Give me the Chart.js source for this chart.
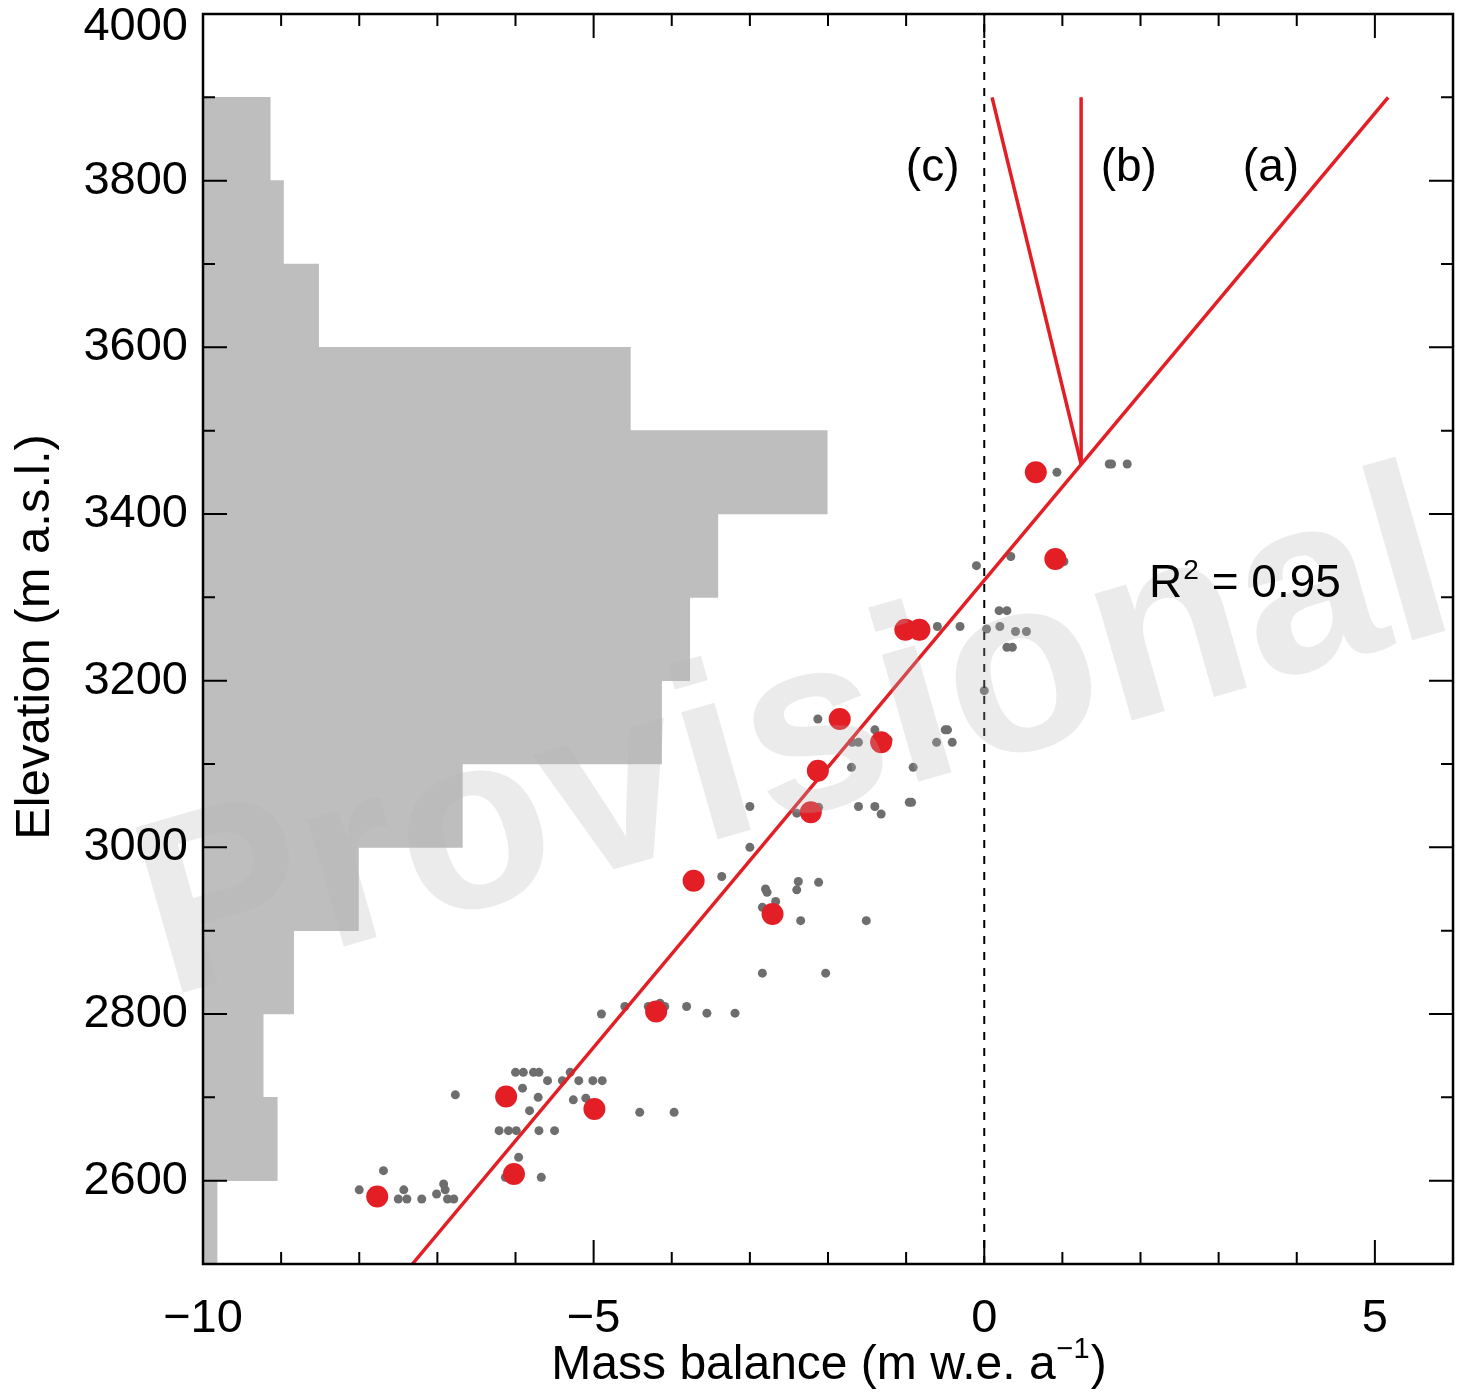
<!DOCTYPE html>
<html>
<head>
<meta charset="utf-8">
<script src="https://cdn.jsdelivr.net/npm/chart.js@4.4.1/dist/chart.umd.min.js"></script>
<style>
  html, body { margin: 0; padding: 0; background: #fff; }
  canvas { display: block; }
</style>
</head>
<body>
<canvas id="chart" width="1466" height="1394"></canvas>
<script>
const FONT = '"Liberation Sans", Arial, Helvetica, sans-serif';
const RED = '#e31e24';

// hypsometry: centre of each 100 m band and where its grey bar ends on the x axis
const bandElev  = [2550, 2650, 2750, 2850, 2950, 3050, 3150, 3250, 3350, 3450, 3550, 3650, 3750, 3850];
const bandWidth = [-9.82, -9.05, -9.23, -8.84, -8.01, -6.68, -4.13, -3.77, -3.41, -2.01, -4.53, -8.52, -8.97, -9.14];

// small grey dots: [mass balance, elevation]
const gridObs = [
  [-6.00, 2730], [-5.90, 2730], [-5.77, 2730], [-5.70, 2730], [-5.30, 2730],
  [-5.59, 2720], [-5.40, 2720], [-5.19, 2720], [-5.01, 2720], [-4.89, 2720],
  [-5.91, 2711], [-5.71, 2700], [-5.26, 2697], [-5.10, 2699], [-6.77, 2703],
  [-5.82, 2684], [-4.41, 2682], [-3.97, 2682],
  [-6.21, 2660], [-6.09, 2660], [-5.99, 2660], [-5.70, 2660], [-5.50, 2660],
  [-5.96, 2628], [-6.13, 2604], [-5.67, 2604],
  [-7.69, 2612], [-8.00, 2589], [-7.43, 2589], [-7.50, 2578], [-7.39, 2578], [-7.20, 2578],
  [-7.01, 2584], [-6.92, 2596], [-6.90, 2589], [-6.87, 2578], [-6.79, 2578],
  [-4.90, 2800], [-4.60, 2809], [-4.30, 2809], [-4.15, 2813], [-4.09, 2809], [-3.81, 2809],
  [-3.55, 2801], [-3.19, 2801],
  [-3.00, 3000], [-3.36, 2965], [-2.80, 2950], [-2.78, 2946], [-2.67, 2935], [-2.84, 2928],
  [-2.38, 2959], [-2.40, 2949], [-2.12, 2958], [-2.35, 2912], [-1.51, 2912], [-2.84, 2849], [-2.03, 2849],
  [-2.13, 3154], [-1.40, 3141], [-1.69, 3126], [-1.61, 3126], [-1.23, 3129], [-1.70, 3096],
  [-0.91, 3096], [-0.50, 3141], [-0.47, 3141], [-0.61, 3126], [-0.41, 3126],
  [-3.00, 3049], [-2.40, 3041], [-2.12, 3048], [-1.61, 3049], [-1.40, 3049], [-1.32, 3040],
  [-0.96, 3054], [-0.93, 3054],
  [0.93, 3450], [1.60, 3460], [1.63, 3460], [1.83, 3460], [0.34, 3349], [-0.10, 3338], [1.02, 3343],
  [-0.60, 3265], [-0.31, 3265], [0.19, 3284], [0.29, 3284], [0.03, 3262], [0.20, 3265],
  [0.40, 3259], [0.54, 3259], [0.29, 3240], [0.36, 3240], [0.00, 3188]
];

// big red dots: [mass balance, elevation]
const stakeObs = [
  [-7.77, 2581], [-6.12, 2701], [-6.02, 2608], [-4.99, 2686], [-4.20, 2803],
  [-3.72, 2960], [-2.71, 2920], [-2.22, 3042], [-2.13, 3092], [-1.85, 3154],
  [-1.32, 3126], [-1.01, 3261], [-0.83, 3261], [0.66, 3450], [0.91, 3346]
];

// gradient lines (a), (b), (c) and the zero line
const fitA = [[-7.32, 2500], [5.17, 3900]];
const fitB = [[1.24, 3460], [1.24, 3900]];
const fitC = [[1.24, 3460], [0.10, 3900]];
const zeroLine = [[0, 2500], [0, 4000]];

const xMajor = [-10, -5, 0, 5];
const xMinor = [-9, -8, -7, -6, -4, -3, -2, -1, 1, 2, 3, 4];
const yMajor = [2600, 2800, 3000, 3200, 3400, 3600, 3800, 4000];
const yMinor = [2700, 2900, 3100, 3300, 3500, 3700, 3900];

const lineLabels = [
  { text: '(c)', x: -0.66, y: 3800 },
  { text: '(b)', x: 1.85, y: 3800 },
  { text: '(a)', x: 3.67, y: 3800 }
];
const r2Label = { x: 2.11, y: 3300, value: '0.95' };

const pts = arr => arr.map(([x, y]) => ({ x, y }));
const minus = s => String(s).replace('-', '\u2212');

const lineSet = (data, extra) => Object.assign({
  type: 'line', data: pts(data), borderColor: RED, borderWidth: 3.5,
  pointRadius: 0, fill: false, tension: 0, order: 0
}, extra);

const frame = {
  id: 'frame',
  afterDatasetsDraw(chart) {
    const { ctx, chartArea: a } = chart;
    ctx.save();
    ctx.translate(a.left + (a.right - a.left) * 0.474, a.top + (a.bottom - a.top) * 0.585);
    ctx.rotate(-16 * Math.PI / 180);
    ctx.font = 'bold 250px ' + FONT;
    ctx.fillStyle = 'rgba(180,180,180,0.27)';
    ctx.textAlign = 'center';
    ctx.textBaseline = 'middle';
    ctx.fillText('Provisional', 0, 0);
    ctx.restore();
  },
  afterDraw(chart) {
    const { ctx, chartArea: a, scales: { x, y } } = chart;
    ctx.save();
    ctx.strokeStyle = '#000';
    ctx.lineWidth = 2.5;
    ctx.strokeRect(a.left, a.top, a.right - a.left, a.bottom - a.top);

    ctx.lineWidth = 2;
    ctx.beginPath();
    const xt = (v, len) => {
      const px = x.getPixelForValue(v);
      ctx.moveTo(px, a.bottom); ctx.lineTo(px, a.bottom - len);
      ctx.moveTo(px, a.top); ctx.lineTo(px, a.top + len);
    };
    const yt = (v, len) => {
      const py = y.getPixelForValue(v);
      ctx.moveTo(a.left, py); ctx.lineTo(a.left + len, py);
      ctx.moveTo(a.right, py); ctx.lineTo(a.right - len, py);
    };
    xMajor.forEach(v => xt(v, 24));
    xMinor.forEach(v => xt(v, 12));
    yMajor.forEach(v => yt(v, 24));
    yMinor.forEach(v => yt(v, 12));
    ctx.stroke();

    ctx.fillStyle = '#000';
    ctx.font = '47px ' + FONT;
    ctx.textAlign = 'right';
    ctx.textBaseline = 'middle';
    yMajor.forEach(v => {
      const py = Math.max(y.getPixelForValue(v), a.top + 13);
      ctx.fillText(String(v), a.left - 15, py);
    });

    // annotations
    ctx.font = '46px ' + FONT;
    ctx.textAlign = 'center';
    ctx.textBaseline = 'alphabetic';
    lineLabels.forEach(l => ctx.fillText(l.text, x.getPixelForValue(l.x), y.getPixelForValue(l.y)));

    ctx.textAlign = 'left';
    let rx = x.getPixelForValue(r2Label.x);
    const ry = y.getPixelForValue(r2Label.y);
    ctx.fillText('R', rx, ry);
    rx += ctx.measureText('R').width;
    ctx.font = '28px ' + FONT;
    ctx.fillText('2', rx + 1, ry - 18);
    rx += ctx.measureText('2').width + 1;
    ctx.font = '46px ' + FONT;
    ctx.fillText(' = ' + r2Label.value, rx, ry);

    // x title with superscript
    const main = 'Mass balance (m w.e. a';
    const sup = '\u22121';
    ctx.font = '48px ' + FONT;
    const w1 = ctx.measureText(main).width;
    const w3 = ctx.measureText(')').width;
    ctx.font = '29px ' + FONT;
    const w2 = ctx.measureText(sup).width;
    let tx = (a.left + a.right) / 2 - (w1 + w2 + w3) / 2;
    const tb = 1379;
    ctx.font = '48px ' + FONT;
    ctx.fillText(main, tx, tb);
    tx += w1 + 1;
    ctx.font = '29px ' + FONT;
    ctx.fillText(sup, tx, tb - 21);
    tx += w2 + 1;
    ctx.font = '48px ' + FONT;
    ctx.fillText(')', tx, tb);

    // y title
    ctx.translate(49, 637);
    ctx.rotate(-Math.PI / 2);
    ctx.textAlign = 'center';
    ctx.font = '49px ' + FONT;
    ctx.fillText('Elevation (m a.s.l.)', 0, 0);
    ctx.restore();
  }
};

new Chart(document.getElementById('chart'), {
  type: 'scatter',
  data: {
    datasets: [
      lineSet(fitA),
      lineSet(fitB),
      lineSet(fitC),
      lineSet(zeroLine, { borderColor: '#000', borderWidth: 2, borderDash: [8, 8] }),
      {
        data: pts(stakeObs), pointRadius: 11, pointBackgroundColor: RED,
        pointBorderWidth: 0, order: 1
      },
      {
        data: pts(gridObs), pointRadius: 4.5, pointBackgroundColor: '#6e6e6e',
        pointBorderWidth: 0, order: 2
      },
      {
        type: 'bar', indexAxis: 'y',
        data: bandElev.map((e, i) => ({ y: e, x: [-10, bandWidth[i]] })),
        backgroundColor: '#bebebe', borderWidth: 0,
        barPercentage: 1, categoryPercentage: 1, grouped: false, order: 3
      }
    ]
  },
  options: {
    responsive: false,
    animation: false,
    layout: { padding: { left: 0, right: 13, top: 14, bottom: 0 } },
    plugins: { legend: { display: false }, tooltip: { enabled: false } },
    scales: {
      x: {
        type: 'linear', min: -10, max: 6, offset: false,
        grid: { display: false, offset: false }, border: { display: false },
        afterBuildTicks: s => { s.ticks = xMajor.map(value => ({ value })); },
        ticks: {
          color: '#000', padding: 19, maxRotation: 0, autoSkip: false,
          font: { family: FONT, size: 47 },
          callback: v => minus(v)
        },
        afterFit: s => { s.height = 130; s.paddingLeft = 0; s.paddingRight = 0; }
      },
      y: {
        type: 'linear', min: 2500, max: 4000, offset: false,
        grid: { display: false, offset: false }, border: { display: false },
        ticks: { display: false },
        afterFit: s => { s.width = 203; s.paddingTop = 0; s.paddingBottom = 0; }
      }
    }
  },
  plugins: [frame]
});
</script>
</body>
</html>
